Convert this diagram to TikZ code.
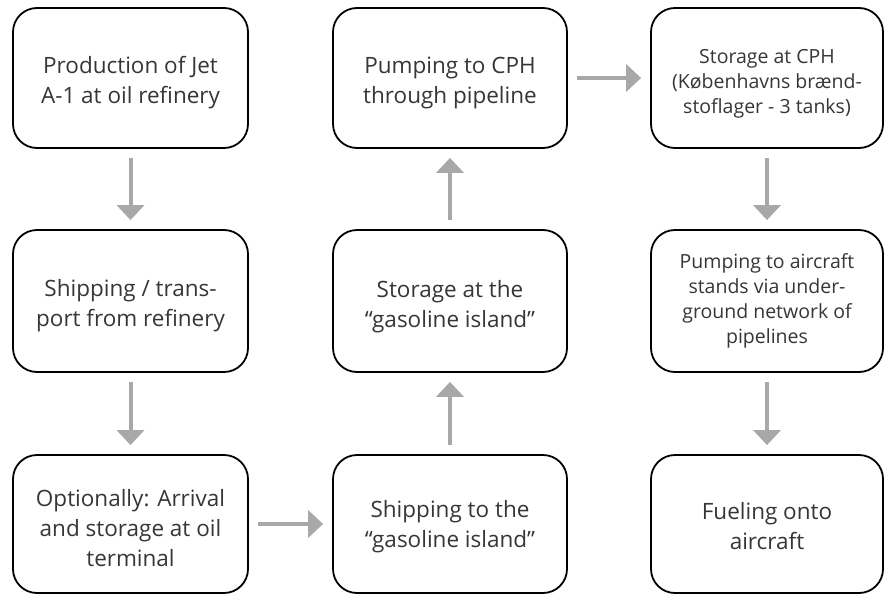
\documentclass[tikz,border=0pt]{standalone}
\usepackage{fontspec}
\setmainfont{Open Sans}
\usetikzlibrary{arrows.meta}
\definecolor{txt}{HTML}{363636}
\definecolor{arr}{HTML}{A8A8A8}
\tikzset{
  box/.style={draw=black, line width=1.8pt, rounded corners=24pt, inner sep=0pt},
  boxtext/.style={align=center, text=txt, inner sep=0pt, font=\fontsize{22.5}{30}\selectfont},
  smalltext/.style={font=\fontsize{19.5}{25}\selectfont},
  flow/.style={draw=arr, line width=4pt, -{Triangle[width=27pt,length=15pt]},
    shorten <=9pt, shorten >=9pt}
}
\begin{document}
\begin{tikzpicture}[x=1pt,y=-1pt]
\useasboundingbox (0,0) rectangle (885,594);
\newcommand{\bx}[8]{\node[box, minimum width=#4pt, minimum height=#5pt,
  label={[boxtext,#7,yshift=-#8pt]center:{#6}}] (#1) at (#2,#3) {};}
\bx{a}{130.5}{78}{235}{140}{Production of Jet\\A-1 at oil refinery}{}{5}
\bx{b}{130.5}{301}{235}{142}{Shipping / trans-\\port from refinery}{}{5}
\bx{c}{130.5}{524}{235}{138}{Optionally: Arrival\\and storage at oil\\terminal}{}{4}
\bx{d}{450}{524}{234}{138}{Shipping to the\\``gasoline island''}{}{3}
\bx{e}{450}{301}{234}{142}{Storage at the\\``gasoline island''}{}{6}
\bx{f}{450}{78}{234}{140}{Pumping to CPH\\through pipeline}{}{5}
\bx{g}{767}{78}{232}{140}{Storage at CPH\\(Københavns brænd-\\stoflager - 3 tanks)}{smalltext}{6}
\bx{h}{767}{301}{232}{142}{Pumping to aircraft\\stands via under-\\ground network of\\pipelines}{smalltext}{0}
\bx{i}{767}{524}{232}{138}{Fueling onto\\aircraft}{}{2}
\draw[flow] (a) -- (b);
\draw[flow] (b) -- (c);
\draw[flow] (c) -- (d);
\draw[flow] (d) -- (e);
\draw[flow] (e) -- (f);
\draw[flow] (f) -- (g);
\draw[flow] (g) -- (h);
\draw[flow] (h) -- (i);
\end{tikzpicture}
\end{document}
